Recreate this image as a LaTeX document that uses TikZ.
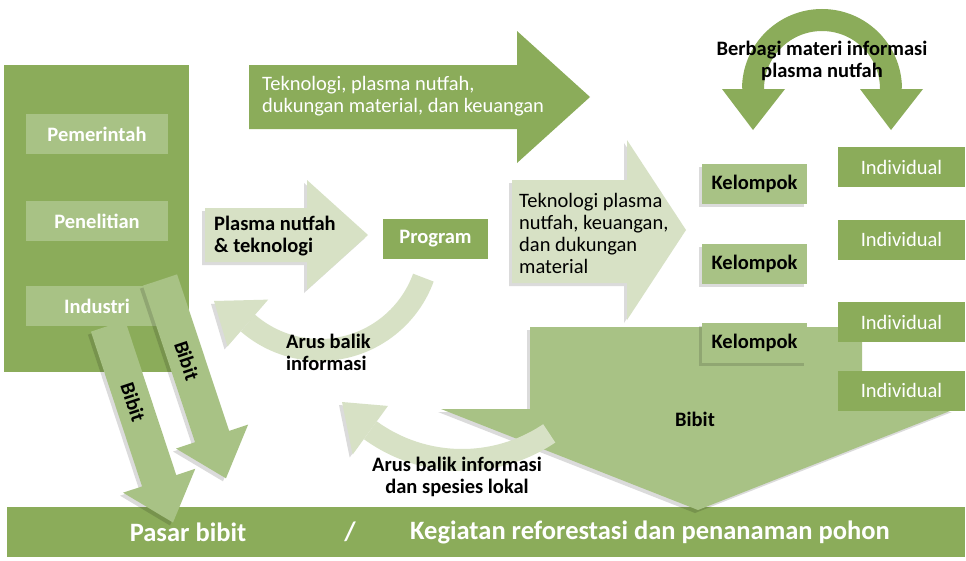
\documentclass[tikz,border=0pt]{standalone}
\usepackage{fontspec}
\setmainfont{Carlito}
\usetikzlibrary{calc,shadows}

\definecolor{darkleaf}{HTML}{8BAC5A}
\definecolor{midleaf}{HTML}{A8C285}
\definecolor{paleleaf}{HTML}{D7E1C5}

\begin{document}
\begin{tikzpicture}[x=1pt,y=-1pt,
  txt/.style={font=\fontsize{20.5}{22}\selectfont, inner sep=0pt},
  boldtxt/.style={font=\fontsize{20.5}{22}\selectfont\bfseries, inner sep=0pt},
  bartext/.style={font=\fontsize{26.5}{28}\selectfont\bfseries, text=white, inner sep=0pt},
  softshadow/.style={drop shadow={shadow xshift=-3pt, shadow yshift=-3pt, opacity=0.14, fill=black}},
  bandshadow/.style={preaction={draw=black, opacity=0.1, transform canvas={shift={(-3pt,-3pt)}}}},
  lembagabox/.style={boldtxt, fill=midleaf, text=white, minimum width=142, minimum height=40},
  kelompokbox/.style={boldtxt, fill=midleaf, text=black, minimum width=105, minimum height=40, softshadow},
  individubox/.style={txt, fill=darkleaf, text=white, minimum width=127, minimum height=40}]
  \useasboundingbox[fill=white] (0,0) rectangle (966,560);

  % bar at the bottom
  \fill[darkleaf] (7,507) rectangle (965,557);
  \node[bartext] (pasar) at (188,532) {Pasar bibit};
  \node[bartext] (garis) at (350,532) {/};
  \node[bartext, anchor=west] (kegiatan) at (410,532) {Kegiatan reforestasi dan penanaman pohon};

  % stakeholders
  \fill[darkleaf] (4,65) rectangle (189,372);
  \node[lembagabox] (pem) at (97,134) {Pemerintah};
  \node[lembagabox] (pen) at (97,221) {Penelitian};
  \node[lembagabox] (indus) at (97,306) {Industri};

  % seedlings to the market
  \begin{scope}[shift={(160,280)}, rotate=-71.6, transform shape]
    \fill[midleaf, softshadow] (0,-18) -- (165,-18) -- (165,-38) -- (209,0) -- (165,38) -- (165,18) -- (0,18) -- cycle;
    \node[boldtxt] (bibitA) at (85,0) {Bibit};
  \end{scope}
  \begin{scope}[shift={(108,326)}, rotate=-71.7, transform shape]
    \fill[midleaf, softshadow] (0,-18) -- (163,-18) -- (163,-38) -- (207,0) -- (163,38) -- (163,18) -- (0,18) -- cycle;
    \node[boldtxt] (bibitB) at (80,0) {Bibit};
  \end{scope}

  % big flows
  \fill[darkleaf] (249,65) -- (517,65) -- (517,31) -- (590,97) -- (517,163) -- (517,129) -- (249,129) -- cycle;
  \node[txt, text=white, anchor=west, align=left] (dukungan) at (262,96) {Teknologi, plasma nutfah,\\dukungan material, dan keuangan};

  \fill[paleleaf, softshadow] (205,208) -- (307,208) -- (307,180) -- (368,235) -- (307,290) -- (307,262) -- (205,262) -- cycle;
  \node[boldtxt, anchor=west, align=left] (plasma) at (214,236) {Plasma nutfah\\\& teknologi};

  \node[boldtxt, fill=darkleaf, text=white, minimum width=105, minimum height=40] (prog) at (435.5,239) {Program};

  \fill[paleleaf, softshadow] (512,180) -- (627,180) -- (627,140) -- (686,230) -- (627,320) -- (627,283) -- (512,283) -- cycle;
  \node[txt, anchor=west, align=left] (teknologi) at (519,233) {Teknologi plasma\\nutfah, keuangan,\\dan dukungan\\material};

  \fill[midleaf, softshadow] (530,327) -- (862,327) -- (862,409) -- (955,409) -- (698,510) -- (441,409) -- (530,409) -- cycle;
  \node[boldtxt] (bibit) at (695,419) {Bibit};

  % feedback 1
  \coordinate (pusat1) at (320,240);
  \coordinate (ujung1) at (214,301);
  \draw[paleleaf, line width=22, bandshadow] ($(pusat1)+(20:110)$) arc[start angle=20, end angle=131, radius=110];
  \fill[paleleaf, softshadow] ($(pusat1)+(131:141)$) -- ($(pusat1)+(131:79)$) -- (ujung1) -- cycle;
  \node[boldtxt, anchor=west, align=left] (arus1) at (286,352) {Arus balik\\informasi};

  % feedback 2
  \coordinate (pusat2) at (462,304);
  \coordinate (ujung2) at (342,402);
  \draw[paleleaf, line width=22, bandshadow] ($(pusat2)+(56:156)$) arc[start angle=56, end angle=126, radius=156];
  \fill[paleleaf, softshadow] ($(pusat2)+(126:186)$) -- ($(pusat2)+(126:126)$) -- (ujung2) -- cycle;
  \node[boldtxt, align=center] (arus2) at (457,477) {Arus balik informasi\\dan spesies lokal};

  % groups and individuals
  \node[kelompokbox] (kel1) at (754.5,184) {Kelompok};
  \node[kelompokbox] (kel2) at (754.5,264) {Kelompok};
  \node[kelompokbox] (kel3) at (754.5,343) {Kelompok};

  \node[individubox] (indiv1) at (901.5,167) {Individual};
  \node[individubox] (indiv2) at (901.5,239.5) {Individual};
  \node[individubox] (indiv3) at (901.5,322) {Individual};
  \node[individubox] (indiv4) at (901.5,390.5) {Individual};

  % sharing between them
  \coordinate (pusat3) at (822,89);
  \draw[darkleaf, line width=22] ($(pusat3)+(180:69)$) arc[start angle=180, end angle=360, radius=69];
  \fill[darkleaf] (722,89) -- (785,89) -- (753,130) -- cycle;
  \fill[darkleaf] (860,89) -- (923,89) -- (891,130) -- cycle;
  \node[boldtxt, align=center] (berbagi) at (822,61) {Berbagi materi informasi\\plasma nutfah};
\end{tikzpicture}
\end{document}
